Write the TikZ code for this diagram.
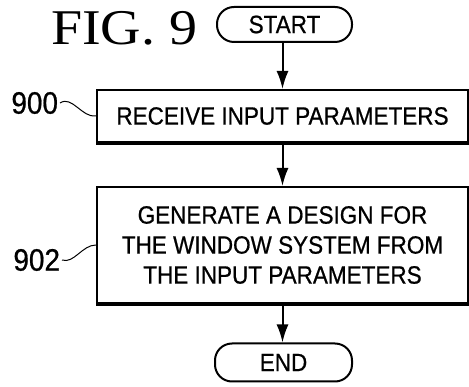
\documentclass[tikz,border=0pt]{standalone}
\usepackage{fontspec}
\setmainfont[FakeStretch=0.9,FakeBold=0.7]{Liberation Sans}
\newfontfamily\figfont[FakeStretch=1.12]{Liberation Serif}
\usetikzlibrary{positioning,calc,arrows.meta}

\begin{document}
\begin{tikzpicture}[x=1pt, y=-1pt, line width=2pt,
    flowbox/.style={draw, minimum width=371pt, inner sep=0pt, align=center,
        font=\fontsize{25}{30}\selectfont},
    terminal/.style={draw, rounded corners=17pt, inner sep=0pt,
        font=\fontsize{25}{27}\selectfont},
    reflabel/.style={anchor=east, inner sep=1pt, font=\fontsize{31}{32}\selectfont},
    flowarrow/.style={-{Latex[length=18pt,width=12pt]}}]
    \useasboundingbox (0,0) rectangle (469,387);

    % Title
    \node[anchor=base west, inner sep=0pt, font=\figfont\fontsize{50}{50}\selectfont] (fig) at (50,45) {FIG. 9};

    % Start
    \node[terminal, minimum width=135pt, minimum height=35pt] (start) at (284.5,24.5) {START};

    % Step 900
    \node[flowbox, minimum height=52pt] (b900) at (282.5,116) {RECEIVE INPUT PARAMETERS};
    \draw[line width=3.5pt] (b900.south west) -- (b900.south east);
    \node[reflabel] (l900) at (60,103) {900};
    \draw[line width=1pt] (l900.east) .. controls +(12,-8) and +(-14,2) .. (b900.west);

    % Step 902
    \node[flowbox, minimum height=116pt] (b902) at (282.5,245) {GENERATE A DESIGN FOR\\THE WINDOW SYSTEM FROM\\THE INPUT PARAMETERS};
    \draw[line width=3.5pt] (b902.south west) -- (b902.south east);
    \node[reflabel] (l902) at (62,260) {902};
    \draw[line width=1pt] (l902.east) .. controls +(12,4) and +(-14,0) .. (b902.west);

    % End
    \node[terminal, minimum width=137pt, minimum height=38pt] (end) at (283.5,362.5) {END};

    % Arrows
    \draw[flowarrow] (start.south -| b900.north) -- (b900.north);
    \draw[flowarrow] (b900) -- (b902);
    \draw[flowarrow] (b902.south) -- (end.north -| b902.south);
\end{tikzpicture}
\end{document}
